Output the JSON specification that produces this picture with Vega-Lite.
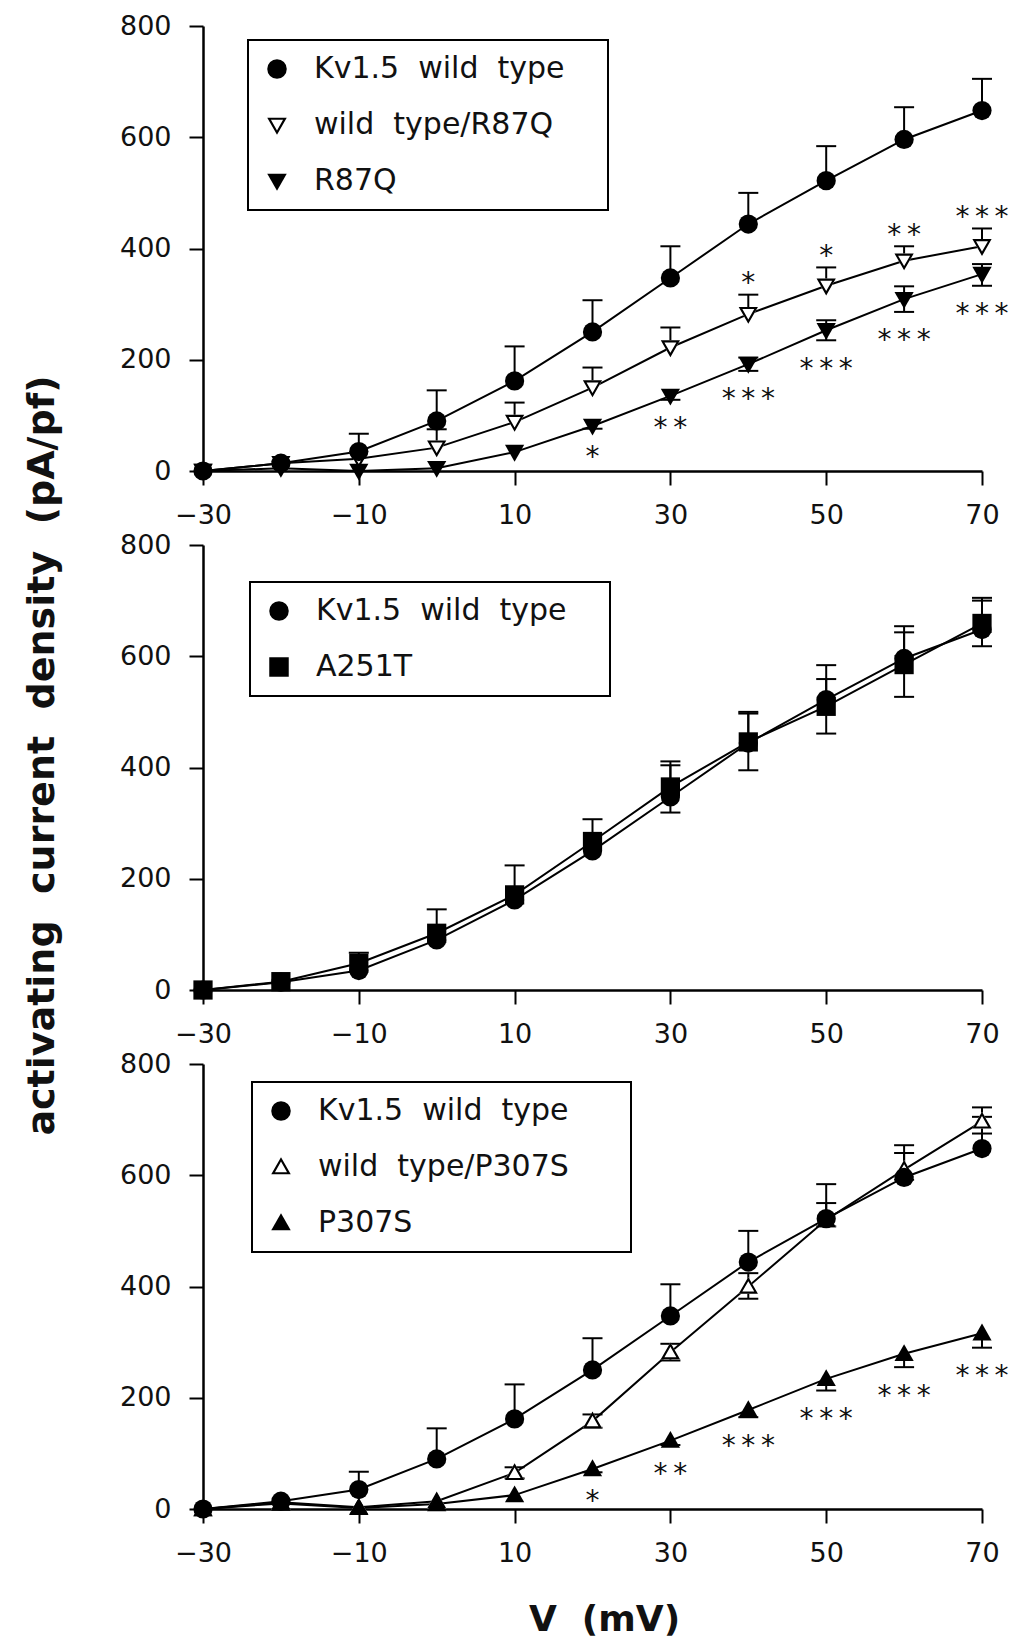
{
  "$schema": "https://vega.github.io/schema/vega-lite/v6.json",
  "background": "white",
  "padding": {"left": 22, "top": 12, "right": 5, "bottom": 2},
  "spacing": 74,
  "bounds": "flush",
  "resolve": {"scale": {"shape": "independent", "x": "independent", "y": "independent"}, "legend": {"shape": "independent"}},
  "config": {
    "view": {"stroke": null},
    "axis": {"domainColor": "black", "domainWidth": 2.5, "tickColor": "black", "tickWidth": 2, "tickSize": 14, "labelFont": "DejaVu Sans", "labelFontSize": 27, "labelColor": "#111", "grid": false, "labelFlush": false, "labelOverlap": false, "titleFont": "DejaVu Sans", "titleFontWeight": "bold", "titleColor": "#111"},
    "legend": {"strokeColor": "black", "strokeWidth": 2, "padding": 14, "rowPadding": 26, "labelFont": "DejaVu Sans", "labelFontSize": 30, "labelColor": "#111", "labelOffset": 22, "labelLimit": 600, "symbolSize": 380}
  },
  "datasets": {
    "A": [
      {"group": "Kv1.5 wild type", "v": -30, "mean": 0},
      {"group": "Kv1.5 wild type", "v": -20, "mean": 14},
      {"group": "Kv1.5 wild type", "v": -10, "mean": 35, "upper": 67},
      {"group": "Kv1.5 wild type", "v": 0, "mean": 90, "upper": 145},
      {"group": "Kv1.5 wild type", "v": 10, "mean": 162, "upper": 224},
      {"group": "Kv1.5 wild type", "v": 20, "mean": 250, "upper": 307},
      {"group": "Kv1.5 wild type", "v": 30, "mean": 347, "upper": 404},
      {"group": "Kv1.5 wild type", "v": 40, "mean": 444, "upper": 500},
      {"group": "Kv1.5 wild type", "v": 50, "mean": 522, "upper": 584},
      {"group": "Kv1.5 wild type", "v": 60, "mean": 596, "upper": 654},
      {"group": "Kv1.5 wild type", "v": 70, "mean": 648, "upper": 705},
      {"group": "wild type/R87Q", "v": -30, "mean": 0},
      {"group": "wild type/R87Q", "v": -20, "mean": 14},
      {"group": "wild type/R87Q", "v": -10, "mean": 22},
      {"group": "wild type/R87Q", "v": 0, "mean": 42, "upper": 75},
      {"group": "wild type/R87Q", "v": 10, "mean": 88, "upper": 123},
      {"group": "wild type/R87Q", "v": 20, "mean": 150, "upper": 186},
      {"group": "wild type/R87Q", "v": 30, "mean": 222, "upper": 258},
      {"group": "wild type/R87Q", "v": 40, "mean": 282, "upper": 317, "sig": "*"},
      {"group": "wild type/R87Q", "v": 50, "mean": 333, "upper": 366, "sig": "*"},
      {"group": "wild type/R87Q", "v": 60, "mean": 378, "upper": 404, "sig": "*\u2009*"},
      {"group": "wild type/R87Q", "v": 70, "mean": 404, "upper": 436, "sig": "*\u2009*\u2009*"},
      {"group": "R87Q", "v": -30, "mean": 0},
      {"group": "R87Q", "v": -20, "mean": 5},
      {"group": "R87Q", "v": -10, "mean": 0},
      {"group": "R87Q", "v": 0, "mean": 5},
      {"group": "R87Q", "v": 10, "mean": 34},
      {"group": "R87Q", "v": 20, "mean": 81, "lower": 76, "sig": "*"},
      {"group": "R87Q", "v": 30, "mean": 135, "lower": 128, "sig": "*\u2009*"},
      {"group": "R87Q", "v": 40, "mean": 192, "lower": 180, "upper": 204, "sig": "*\u2009*\u2009*"},
      {"group": "R87Q", "v": 50, "mean": 253, "lower": 235, "upper": 271, "sig": "*\u2009*\u2009*"},
      {"group": "R87Q", "v": 60, "mean": 309, "lower": 286, "upper": 332, "sig": "*\u2009*\u2009*"},
      {"group": "R87Q", "v": 70, "mean": 354, "lower": 333, "upper": 372, "sig": "*\u2009*\u2009*"}
    ],
    "B": [
      {"group": "Kv1.5 wild type", "v": -30, "mean": 0},
      {"group": "Kv1.5 wild type", "v": -20, "mean": 14},
      {"group": "Kv1.5 wild type", "v": -10, "mean": 35, "upper": 67},
      {"group": "Kv1.5 wild type", "v": 0, "mean": 90, "upper": 145},
      {"group": "Kv1.5 wild type", "v": 10, "mean": 162, "upper": 224},
      {"group": "Kv1.5 wild type", "v": 20, "mean": 250, "upper": 307},
      {"group": "Kv1.5 wild type", "v": 30, "mean": 347, "upper": 404},
      {"group": "Kv1.5 wild type", "v": 40, "mean": 444, "upper": 500},
      {"group": "Kv1.5 wild type", "v": 50, "mean": 522, "upper": 584},
      {"group": "Kv1.5 wild type", "v": 60, "mean": 596, "upper": 654},
      {"group": "Kv1.5 wild type", "v": 70, "mean": 648, "upper": 705},
      {"group": "A251T", "v": -30, "mean": 0},
      {"group": "A251T", "v": -20, "mean": 15},
      {"group": "A251T", "v": -10, "mean": 48},
      {"group": "A251T", "v": 0, "mean": 102},
      {"group": "A251T", "v": 10, "mean": 171},
      {"group": "A251T", "v": 20, "mean": 267},
      {"group": "A251T", "v": 30, "mean": 365, "lower": 319, "upper": 411},
      {"group": "A251T", "v": 40, "mean": 446, "lower": 395, "upper": 497},
      {"group": "A251T", "v": 50, "mean": 510, "lower": 461, "upper": 559},
      {"group": "A251T", "v": 60, "mean": 585, "lower": 527, "upper": 643},
      {"group": "A251T", "v": 70, "mean": 659, "lower": 618, "upper": 700}
    ],
    "C": [
      {"group": "Kv1.5 wild type", "v": -30, "mean": 0},
      {"group": "Kv1.5 wild type", "v": -20, "mean": 14},
      {"group": "Kv1.5 wild type", "v": -10, "mean": 35, "upper": 67},
      {"group": "Kv1.5 wild type", "v": 0, "mean": 90, "upper": 145},
      {"group": "Kv1.5 wild type", "v": 10, "mean": 162, "upper": 224},
      {"group": "Kv1.5 wild type", "v": 20, "mean": 250, "upper": 307},
      {"group": "Kv1.5 wild type", "v": 30, "mean": 347, "upper": 404},
      {"group": "Kv1.5 wild type", "v": 40, "mean": 444, "upper": 500},
      {"group": "Kv1.5 wild type", "v": 50, "mean": 522, "upper": 584},
      {"group": "Kv1.5 wild type", "v": 60, "mean": 596, "upper": 654},
      {"group": "Kv1.5 wild type", "v": 70, "mean": 648, "upper": 705},
      {"group": "wild type/P307S", "v": -30, "mean": 0},
      {"group": "wild type/P307S", "v": -20, "mean": 12},
      {"group": "wild type/P307S", "v": -10, "mean": 3},
      {"group": "wild type/P307S", "v": 0, "mean": 14},
      {"group": "wild type/P307S", "v": 10, "mean": 65, "lower": 55, "upper": 75},
      {"group": "wild type/P307S", "v": 20, "mean": 158, "lower": 146, "upper": 170},
      {"group": "wild type/P307S", "v": 30, "mean": 282, "lower": 267, "upper": 297},
      {"group": "wild type/P307S", "v": 40, "mean": 400, "lower": 378, "upper": 424},
      {"group": "wild type/P307S", "v": 50, "mean": 520, "lower": 508, "upper": 550},
      {"group": "wild type/P307S", "v": 60, "mean": 610, "lower": 592, "upper": 640},
      {"group": "wild type/P307S", "v": 70, "mean": 697, "lower": 675, "upper": 722},
      {"group": "P307S", "v": -30, "mean": 0},
      {"group": "P307S", "v": -20, "mean": 10},
      {"group": "P307S", "v": -10, "mean": 2},
      {"group": "P307S", "v": 0, "mean": 9},
      {"group": "P307S", "v": 10, "mean": 25},
      {"group": "P307S", "v": 20, "mean": 72, "lower": 66, "sig": "*"},
      {"group": "P307S", "v": 30, "mean": 123, "lower": 115, "sig": "*\u2009*"},
      {"group": "P307S", "v": 40, "mean": 178, "lower": 165, "sig": "*\u2009*\u2009*"},
      {"group": "P307S", "v": 50, "mean": 234, "lower": 213, "sig": "*\u2009*\u2009*"},
      {"group": "P307S", "v": 60, "mean": 279, "lower": 255, "sig": "*\u2009*\u2009*"},
      {"group": "P307S", "v": 70, "mean": 316, "lower": 290, "sig": "*\u2009*\u2009*"}
    ]
  },
  "vconcat": [
    {
      "width": 779, "height": 445,
      "data": {"name": "A"},
      "encoding": {"x": {"field": "v", "type": "quantitative", "scale": {"domain": [-30, 70], "nice": false, "zero": false}, "axis": {"values": [-30, -10, 10, 30, 50, 70], "title": null, "labelPadding": 17}}},
      "layer": [
        {"mark": {"type": "line", "color": "black", "strokeWidth": 2}, "encoding": {"y": {"field": "mean", "type": "quantitative", "scale": {"domain": [0, 800], "nice": false}, "axis": {"values": [0, 200, 400, 600, 800], "title": null, "labelPadding": 18}}, "detail": {"field": "group"}}},
        {"transform": [{"filter": "isValid(datum.upper)"}], "mark": {"type": "rule", "color": "black", "strokeWidth": 2}, "encoding": {"y": {"field": "mean", "type": "quantitative", "axis": {"values": [0, 200, 400, 600, 800], "title": null, "labelPadding": 18}}, "y2": {"field": "upper"}}},
        {"transform": [{"filter": "isValid(datum.lower)"}], "mark": {"type": "rule", "color": "black", "strokeWidth": 2}, "encoding": {"y": {"field": "lower", "type": "quantitative", "axis": {"values": [0, 200, 400, 600, 800], "title": null, "labelPadding": 18}}, "y2": {"field": "mean"}}},
        {"transform": [{"filter": "isValid(datum.upper)"}], "mark": {"type": "tick", "orient": "horizontal", "color": "black", "size": 20, "thickness": 2, "opacity": 1}, "encoding": {"y": {"field": "upper", "type": "quantitative", "axis": {"values": [0, 200, 400, 600, 800], "title": null, "labelPadding": 18}}}},
        {"transform": [{"filter": "isValid(datum.lower)"}], "mark": {"type": "tick", "orient": "horizontal", "color": "black", "size": 20, "thickness": 2, "opacity": 1}, "encoding": {"y": {"field": "lower", "type": "quantitative", "axis": {"values": [0, 200, 400, 600, 800], "title": null, "labelPadding": 18}}}},
        {"transform": [{"filter": "indexof(datum.group, 'wild type/') === 0"}], "mark": {"type": "point", "filled": true, "color": "white", "shape": "M-1,-0.75L1,-0.75L0,1Z", "size": 370, "opacity": 1}, "encoding": {"y": {"field": "mean", "type": "quantitative", "axis": {"values": [0, 200, 400, 600, 800], "title": null, "labelPadding": 18}}}},
        {"mark": {"type": "point", "filled": true, "color": "black", "size": 370, "opacity": 1},
         "encoding": {
           "y": {"field": "mean", "type": "quantitative", "axis": {"values": [0, 200, 400, 600, 800], "title": null, "labelPadding": 18}},
           "shape": {"field": "group", "type": "nominal", "scale": {"domain": ["Kv1.5 wild type", "wild type/R87Q", "R87Q"], "range": ["circle", "M-1,-0.75L1,-0.75L0,1ZM-0.62,-0.53L0,0.555L0.62,-0.53Z", "M-1,-0.75L1,-0.75L0,1Z"]},
             "legend": {"title": null, "orient": "none", "legendX": 45, "legendY": 14, "labelExpr": "replace(datum.label, regexp(' ', 'g'), '\u00a0\u00a0') + '\u00a0\u00a0\u00a0\u2060'"}}
         }},
        {"transform": [{"filter": "isValid(datum.sig) && !isValid(datum.lower)"}], "mark": {"type": "text", "font": "DejaVu Sans", "fontSize": 28, "color": "#111", "baseline": "alphabetic", "dy": -2.5}, "encoding": {"y": {"field": "upper", "type": "quantitative", "axis": {"values": [0, 200, 400, 600, 800], "title": null, "labelPadding": 18}}, "text": {"field": "sig"}}},
        {"transform": [{"filter": "isValid(datum.sig) && isValid(datum.lower)"}], "mark": {"type": "text", "font": "DejaVu Sans", "fontSize": 28, "color": "#111", "baseline": "alphabetic", "dy": 37.5}, "encoding": {"y": {"field": "lower", "type": "quantitative", "axis": {"values": [0, 200, 400, 600, 800], "title": null, "labelPadding": 18}}, "text": {"field": "sig"}}}
      ]
    },
    {
      "width": 779, "height": 445,
      "data": {"name": "B"},
      "encoding": {"x": {"field": "v", "type": "quantitative", "scale": {"domain": [-30, 70], "nice": false, "zero": false}, "axis": {"values": [-30, -10, 10, 30, 50, 70], "title": null, "labelPadding": 17}}},
      "layer": [
        {"mark": {"type": "line", "color": "black", "strokeWidth": 2}, "encoding": {"y": {"field": "mean", "type": "quantitative", "scale": {"domain": [0, 800], "nice": false}, "axis": {"values": [0, 200, 400, 600, 800], "labelPadding": 18, "title": "activating\u00a0\u00a0current\u00a0\u00a0density\u00a0\u00a0(pA/pf)", "titleFontSize": 38, "titleAngle": 270, "titleX": -150, "titleY": 210, "titleAlign": "center", "titleBaseline": "alphabetic"}}, "detail": {"field": "group"}}},
        {"transform": [{"filter": "isValid(datum.upper)"}], "mark": {"type": "rule", "color": "black", "strokeWidth": 2}, "encoding": {"y": {"field": "mean", "type": "quantitative", "axis": {"values": [0, 200, 400, 600, 800], "labelPadding": 18, "title": "activating\u00a0\u00a0current\u00a0\u00a0density\u00a0\u00a0(pA/pf)", "titleFontSize": 38, "titleAngle": 270, "titleX": -150, "titleY": 210, "titleAlign": "center", "titleBaseline": "alphabetic"}}, "y2": {"field": "upper"}}},
        {"transform": [{"filter": "isValid(datum.lower)"}], "mark": {"type": "rule", "color": "black", "strokeWidth": 2}, "encoding": {"y": {"field": "lower", "type": "quantitative", "axis": {"values": [0, 200, 400, 600, 800], "labelPadding": 18, "title": "activating\u00a0\u00a0current\u00a0\u00a0density\u00a0\u00a0(pA/pf)", "titleFontSize": 38, "titleAngle": 270, "titleX": -150, "titleY": 210, "titleAlign": "center", "titleBaseline": "alphabetic"}}, "y2": {"field": "mean"}}},
        {"transform": [{"filter": "isValid(datum.upper)"}], "mark": {"type": "tick", "orient": "horizontal", "color": "black", "size": 20, "thickness": 2, "opacity": 1}, "encoding": {"y": {"field": "upper", "type": "quantitative", "axis": {"values": [0, 200, 400, 600, 800], "labelPadding": 18, "title": "activating\u00a0\u00a0current\u00a0\u00a0density\u00a0\u00a0(pA/pf)", "titleFontSize": 38, "titleAngle": 270, "titleX": -150, "titleY": 210, "titleAlign": "center", "titleBaseline": "alphabetic"}}}},
        {"transform": [{"filter": "isValid(datum.lower)"}], "mark": {"type": "tick", "orient": "horizontal", "color": "black", "size": 20, "thickness": 2, "opacity": 1}, "encoding": {"y": {"field": "lower", "type": "quantitative", "axis": {"values": [0, 200, 400, 600, 800], "labelPadding": 18, "title": "activating\u00a0\u00a0current\u00a0\u00a0density\u00a0\u00a0(pA/pf)", "titleFontSize": 38, "titleAngle": 270, "titleX": -150, "titleY": 210, "titleAlign": "center", "titleBaseline": "alphabetic"}}}},
        {"mark": {"type": "point", "filled": true, "color": "black", "size": 370, "opacity": 1},
         "encoding": {
           "y": {"field": "mean", "type": "quantitative", "axis": {"values": [0, 200, 400, 600, 800], "labelPadding": 18, "title": "activating\u00a0\u00a0current\u00a0\u00a0density\u00a0\u00a0(pA/pf)", "titleFontSize": 38, "titleAngle": 270, "titleX": -150, "titleY": 210, "titleAlign": "center", "titleBaseline": "alphabetic"}},
           "shape": {"field": "group", "type": "nominal", "scale": {"domain": ["Kv1.5 wild type", "A251T"], "range": ["circle", "square"]},
             "legend": {"title": null, "orient": "none", "legendX": 47, "legendY": 37, "labelExpr": "replace(datum.label, regexp(' ', 'g'), '\u00a0\u00a0') + '\u00a0\u00a0\u00a0\u2060'"}}
         }}
      ]
    },
    {
      "width": 779, "height": 445,
      "data": {"name": "C"},
      "encoding": {"x": {"field": "v", "type": "quantitative", "scale": {"domain": [-30, 70], "nice": false, "zero": false}, "axis": {"values": [-30, -10, 10, 30, 50, 70], "labelPadding": 17, "title": "V\u00a0\u00a0(mV)", "titleFontSize": 36, "titleX": 401, "titleY": 121, "titleAlign": "center", "titleBaseline": "alphabetic"}}},
      "layer": [
        {"mark": {"type": "line", "color": "black", "strokeWidth": 2}, "encoding": {"y": {"field": "mean", "type": "quantitative", "scale": {"domain": [0, 800], "nice": false}, "axis": {"values": [0, 200, 400, 600, 800], "title": null, "labelPadding": 18}}, "detail": {"field": "group"}}},
        {"transform": [{"filter": "isValid(datum.upper)"}], "mark": {"type": "rule", "color": "black", "strokeWidth": 2}, "encoding": {"y": {"field": "mean", "type": "quantitative", "axis": {"values": [0, 200, 400, 600, 800], "title": null, "labelPadding": 18}}, "y2": {"field": "upper"}}},
        {"transform": [{"filter": "isValid(datum.lower)"}], "mark": {"type": "rule", "color": "black", "strokeWidth": 2}, "encoding": {"y": {"field": "lower", "type": "quantitative", "axis": {"values": [0, 200, 400, 600, 800], "title": null, "labelPadding": 18}}, "y2": {"field": "mean"}}},
        {"transform": [{"filter": "isValid(datum.upper)"}], "mark": {"type": "tick", "orient": "horizontal", "color": "black", "size": 20, "thickness": 2, "opacity": 1}, "encoding": {"y": {"field": "upper", "type": "quantitative", "axis": {"values": [0, 200, 400, 600, 800], "title": null, "labelPadding": 18}}}},
        {"transform": [{"filter": "isValid(datum.lower)"}], "mark": {"type": "tick", "orient": "horizontal", "color": "black", "size": 20, "thickness": 2, "opacity": 1}, "encoding": {"y": {"field": "lower", "type": "quantitative", "axis": {"values": [0, 200, 400, 600, 800], "title": null, "labelPadding": 18}}}},
        {"transform": [{"filter": "indexof(datum.group, 'wild type/') === 0"}], "mark": {"type": "point", "filled": true, "color": "white", "shape": "M-1,0.75L0,-1L1,0.75Z", "size": 370, "opacity": 1}, "encoding": {"y": {"field": "mean", "type": "quantitative", "axis": {"values": [0, 200, 400, 600, 800], "title": null, "labelPadding": 18}}}},
        {"mark": {"type": "point", "filled": true, "color": "black", "size": 370, "opacity": 1},
         "encoding": {
           "y": {"field": "mean", "type": "quantitative", "axis": {"values": [0, 200, 400, 600, 800], "title": null, "labelPadding": 18}},
           "shape": {"field": "group", "type": "nominal", "scale": {"domain": ["Kv1.5 wild type", "wild type/P307S", "P307S"], "range": ["circle", "M-1,0.75L0,-1L1,0.75ZM-0.62,0.53L0.62,0.53L0,-0.555Z", "M-1,0.75L0,-1L1,0.75Z"]},
             "legend": {"title": null, "orient": "none", "legendX": 49, "legendY": 18, "labelExpr": "replace(datum.label, regexp(' ', 'g'), '\u00a0\u00a0') + '\u00a0\u00a0\u00a0\u00a0\u00a0\u2060'"}}
         }},
        {"transform": [{"filter": "isValid(datum.sig) && isValid(datum.lower)"}], "mark": {"type": "text", "font": "DejaVu Sans", "fontSize": 28, "color": "#111", "baseline": "alphabetic", "dy": 37.5}, "encoding": {"y": {"field": "lower", "type": "quantitative", "axis": {"values": [0, 200, 400, 600, 800], "title": null, "labelPadding": 18}}, "text": {"field": "sig"}}}
      ]
    }
  ]
}
